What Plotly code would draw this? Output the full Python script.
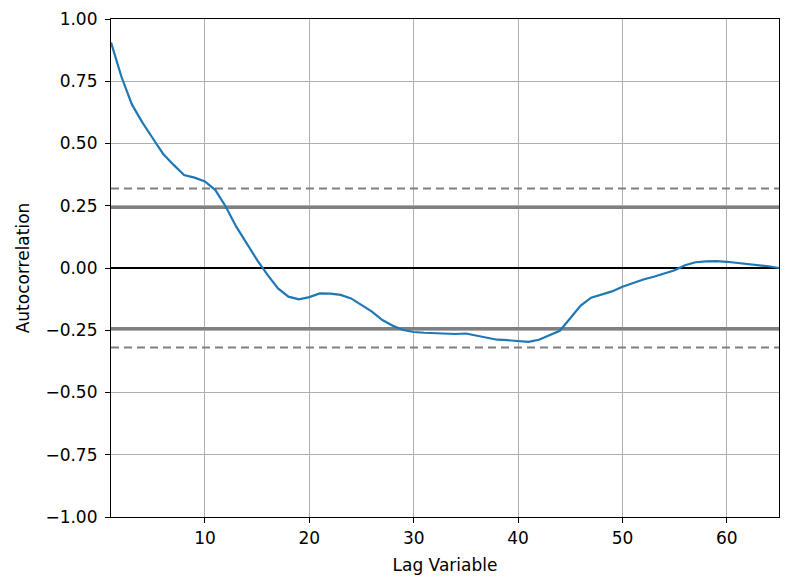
import numpy as np
import plotly.graph_objects as go

n = 65
lags = list(range(1, n + 1))
autocorr = [0.906, 0.768, 0.657, 0.585, 0.521, 0.458, 0.414, 0.373, 0.363, 0.348,
            0.313, 0.246, 0.166, 0.099, 0.032, -0.028, -0.082, -0.115, -0.126, -0.117,
            -0.102, -0.103, -0.108, -0.122, -0.149, -0.175, -0.209, -0.232, -0.249, -0.257,
            -0.260, -0.262, -0.262, -0.265, -0.263, -0.272, -0.281, -0.288, -0.290, -0.293,
            -0.297, -0.288, -0.271, -0.252, -0.202, -0.151, -0.119, -0.106, -0.094, -0.075,
            -0.059, -0.046, -0.035, -0.021, -0.009, 0.011, 0.023, 0.027, 0.028, 0.025,
            0.021, 0.017, 0.013, 0.007, 0.0]
yticks = [1.0, 0.75, 0.5, 0.25, 0.0, -0.25, -0.5, -0.75, -1.0]
ytick_labels = ["1.00", "0.75", "0.50", "0.25", "0.00", "\u22120.25", "\u22120.50", "\u22120.75", "\u22121.00"]
xticks = [10, 20, 30, 40, 50, 60]

z95 = 1.959963984540054
z99 = 2.5758293035489004
b95 = z95 / np.sqrt(n)
b99 = z99 / np.sqrt(n)

fig = go.Figure()
xr = [1, n]
fig.add_trace(go.Scatter(x=xr, y=[b99, b99], mode="lines",
                         line=dict(color="grey", width=2, dash="8px,5px"), hoverinfo="skip"))
fig.add_trace(go.Scatter(x=xr, y=[b95, b95], mode="lines",
                         line=dict(color="grey", width=3), hoverinfo="skip"))
fig.add_trace(go.Scatter(x=xr, y=[0, 0], mode="lines",
                         line=dict(color="black", width=2), hoverinfo="skip"))
fig.add_trace(go.Scatter(x=xr, y=[-b95, -b95], mode="lines",
                         line=dict(color="grey", width=3), hoverinfo="skip"))
fig.add_trace(go.Scatter(x=xr, y=[-b99, -b99], mode="lines",
                         line=dict(color="grey", width=2, dash="8px,5px"), hoverinfo="skip"))
fig.add_trace(go.Scatter(x=lags, y=autocorr, mode="lines",
                         line=dict(color="#1f77b4", width=2.2)))

axis_common = dict(showline=True, linecolor="black", linewidth=1.2, mirror=True,
                   ticks="outside", ticklen=5, tickcolor="black", tickwidth=1.2,
                   showgrid=True, gridcolor="#b0b0b0", gridwidth=1, zeroline=False,
                   tickfont=dict(family="DejaVu Sans", size=17, color="black"))

fig.update_layout(
    width=785, height=580,
    margin=dict(l=111, r=6, t=19, b=63),
    plot_bgcolor="white", paper_bgcolor="white",
    showlegend=False,
    font=dict(family="DejaVu Sans", size=17, color="black"),
    xaxis=dict(range=[1, n], tickvals=xticks,
               title=dict(text="Lag Variable", font=dict(size=17), standoff=12),
               **axis_common),
    yaxis=dict(range=[-1, 1], tickvals=yticks, ticktext=ytick_labels,
               title=dict(text="Autocorrelation", font=dict(size=17), standoff=11),
               ticklabelstandoff=4,
               **axis_common),
)

fig.write_html("out.html")
